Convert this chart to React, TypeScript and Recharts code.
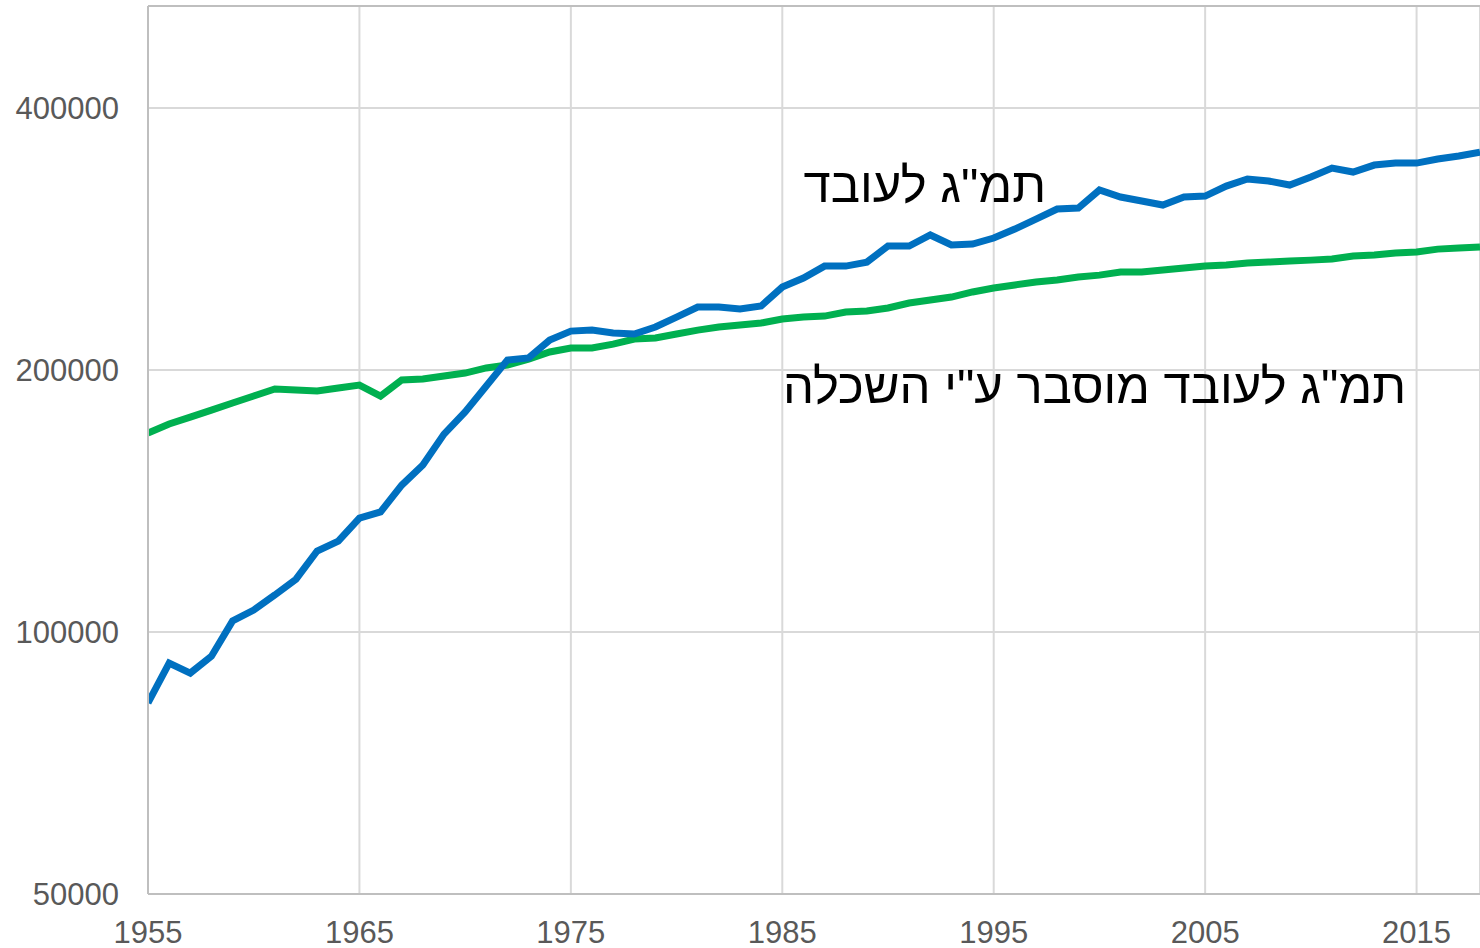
import React from 'react';
import { LineChart, Line, XAxis, YAxis, CartesianGrid, ReferenceLine } from 'recharts';

const years = [
  1955, 1956, 1957, 1958, 1959, 1960, 1961, 1962, 1963, 1964,
  1965, 1966, 1967, 1968, 1969, 1970, 1971, 1972, 1973, 1974,
  1975, 1976, 1977, 1978, 1979, 1980, 1981, 1982, 1983, 1984,
  1985, 1986, 1987, 1988, 1989, 1990, 1991, 1992, 1993, 1994,
  1995, 1996, 1997, 1998, 1999, 2000, 2001, 2002, 2003, 2004,
  2005, 2006, 2007, 2008, 2009, 2010, 2011, 2012, 2013, 2014,
  2015, 2016, 2017, 2018,
];

// GDP per worker
const gdpPerWorker = [
  82900, 92100, 89700, 93800, 103000, 106000, 110300, 115000, 123900, 127200,
  135200, 137400, 147500, 155600, 168800, 179000, 191700, 205400, 206500, 216500,
  221700, 222300, 220600, 220000, 224100, 230100, 236300, 236300, 235000, 236900,
  249100, 255100, 263300, 263300, 266100, 277700, 277700, 285900, 278400, 279100,
  283600, 290400, 298200, 306200, 307000, 322000, 316100, 312800, 309500, 316100,
  316900, 325400, 331500, 329800, 326300, 333300, 341300, 337700, 344000, 345800,
  345800, 349500, 352300, 356000,
];

// GDP per worker explained by education
const explainedByEducation = [
  169300, 173400, 176600, 179900, 183300, 186700, 190200, 189700, 189200, 190700,
  192200, 186700, 194800, 195300, 196900, 198400, 201100, 202700, 205900, 209800,
  212000, 212000, 214200, 217100, 217700, 220000, 222300, 224100, 225300, 226500,
  228900, 230100, 230700, 233200, 233800, 235700, 238800, 240700, 242600, 245900,
  248500, 250500, 252400, 253800, 255800, 257100, 259200, 259200, 260600, 262000,
  263300, 264000, 265400, 266100, 266800, 267500, 268300, 270400, 271100, 272600,
  273300, 275400, 276200, 276900,
];

const xTicks = [1955, 1965, 1975, 1985, 1995, 2005, 2015];
const yTicks = [50000, 100000, 200000, 400000];
const Y_MIN = 50000;
const Y_MAX = 524000;

const LABEL_GDP = 'תמ"ג לעובד';
const LABEL_EDU = 'תמ"ג לעובד מוסבר ע"י השכלה';

const data = years.map((year, i) => ({
  year,
  gdp: gdpPerWorker[i],
  edu: explainedByEducation[i],
}));

const tickStyle = { fontSize: 31, fill: '#595959', fontFamily: '"Liberation Sans", Arial, sans-serif' };

const labelStyle: React.CSSProperties = {
  position: 'absolute',
  direction: 'rtl',
  fontFamily: '"Liberation Sans", Arial, sans-serif',
  fontSize: 49,
  lineHeight: 1,
  color: '#000',
  whiteSpace: 'nowrap',
};

export default function App() {
  return (
    <div style={{ position: 'fixed', left: 0, top: 0, width: 1480, height: 948, overflow: 'hidden', background: '#fff' }}>
      <LineChart
        width={1480}
        height={948}
        data={data}
        margin={{ top: 6, right: 0, left: 0, bottom: 0 }}
      >
        <CartesianGrid stroke="#d9d9d9" strokeWidth={2} />
        <XAxis
          dataKey="year"
          type="number"
          domain={[1955, 2018]}
          ticks={xTicks}
          height={54}
          tickLine={false}
          tickSize={0}
          tickMargin={27}
          tick={tickStyle}
          stroke="#bfbfbf"
          strokeWidth={2}
          allowDataOverflow
        />
        <YAxis
          type="number"
          scale="log"
          domain={[Y_MIN, Y_MAX]}
          ticks={yTicks}
          width={148}
          tickLine={false}
          tickSize={0}
          tickMargin={29}
          tick={tickStyle}
          stroke="#bfbfbf"
          strokeWidth={2}
          allowDataOverflow
        />
        <ReferenceLine y={Y_MAX} stroke="#bfbfbf" strokeWidth={2} ifOverflow="visible" />
        <Line
          type="linear"
          dataKey="edu"
          stroke="#00b050"
          strokeWidth={7}
          dot={false}
          isAnimationActive={false}
        />
        <Line
          type="linear"
          dataKey="gdp"
          stroke="#0070c0"
          strokeWidth={7}
          dot={false}
          isAnimationActive={false}
        />
      </LineChart>
      <div style={{ ...labelStyle, right: 1480 - 1046, top: 161 }}>{LABEL_GDP}</div>
      <div style={{ ...labelStyle, right: 1480 - 1406, top: 362 }}>{LABEL_EDU}</div>
    </div>
  );
}
